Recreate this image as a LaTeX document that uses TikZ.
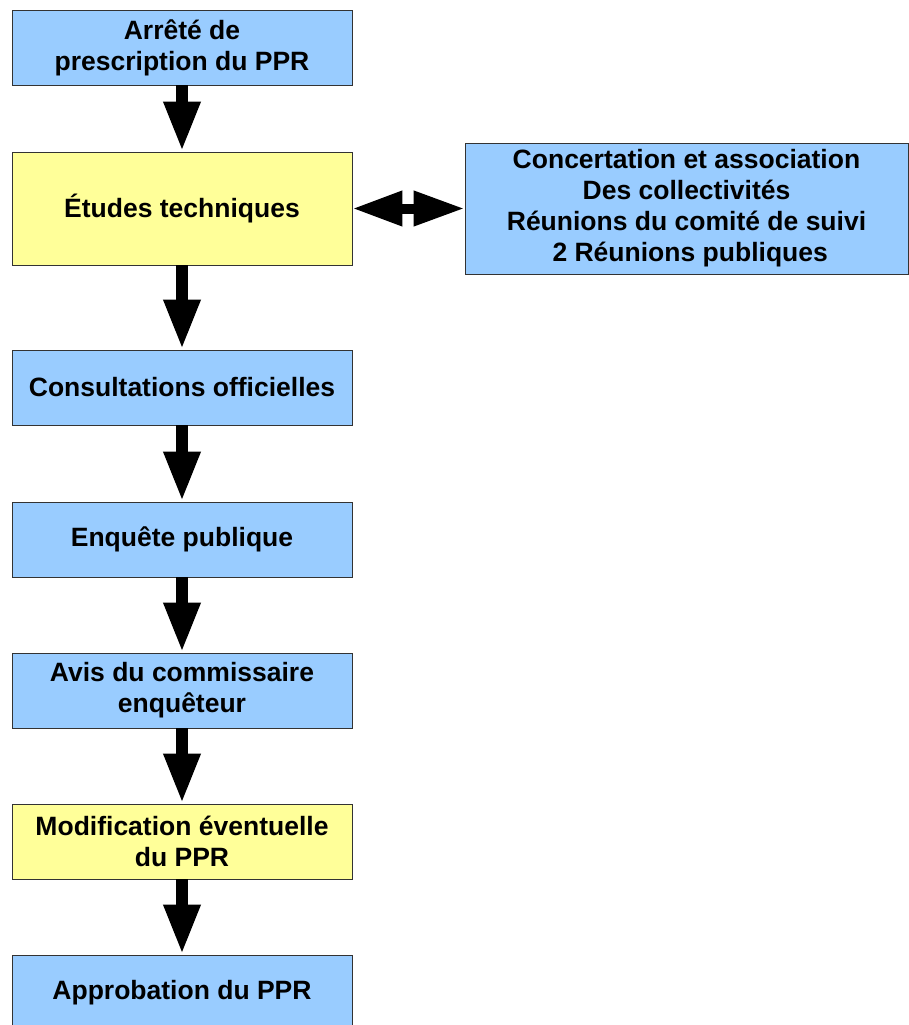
\documentclass[tikz,border=0pt]{standalone}
\usepackage{fontspec}
\setmainfont{Liberation Sans}
\usetikzlibrary{arrows.meta}

\begin{document}
\begin{tikzpicture}[x=1pt,y=1pt,font=\fontsize{26.5}{31}\selectfont\bfseries]
  %----- styles
  \tikzset{
    bluebox/.style  ={draw=black!80,line width=0.8pt,fill={rgb,255:red,153;green,204;blue,255},
                      minimum width=340pt,minimum height=75pt,align=center,inner sep=0pt},
    yellowbox/.style={bluebox,fill={rgb,255:red,255;green,255;blue,153}},
    flow/.style     ={line width=12pt,-{Triangle[length=50pt,width=34pt]}},
    both/.style     ={line width=10pt,{Triangle[length=50pt,width=33pt]}-{Triangle[length=51pt,width=33pt]}}
  }
  \useasboundingbox (0,0) rectangle (909,-1025);

  %----- nodes
  % main column
  \node[bluebox]   (arrete)  at (182,-47.5)  {Arrêté de\\prescription du PPR};
  \node[yellowbox,minimum height=113pt] (etudes) at (182,-208.5) {Études techniques};
  \node[bluebox]   (consult) at (182,-387.5) {Consultations officielles};
  \node[bluebox]   (enquete) at (182,-539.5) {Enquête publique};
  \node[bluebox]   (avis)    at (182,-690.5) {Avis du commissaire\\enquêteur};
  \node[yellowbox] (modif)   at (182,-841.5) {Modification éventuelle\\du PPR};
  \node[bluebox]   (approb)  at (182,-992.5) {Approbation du PPR};
  % side box
  \node[bluebox,minimum width=443pt,minimum height=131pt] (concert) at (686.5,-208.5)
    {Concertation et association\\Des collectivités\\Réunions du comité de suivi\\\ 2 Réunions publiques};

  %----- connections
  \draw[flow] (arrete.south)  -- (etudes.north);
  \draw[flow] (etudes.south)  -- (consult.north);
  \draw[flow] (consult.south) -- (enquete.north);
  \draw[flow] (enquete.south) -- (avis.north);
  \draw[flow] (avis.south)    -- (modif.north);
  \draw[flow] (modif.south)   -- (approb.north);

  \draw[both] (etudes.east) -- (concert.west);
\end{tikzpicture}
\end{document}
